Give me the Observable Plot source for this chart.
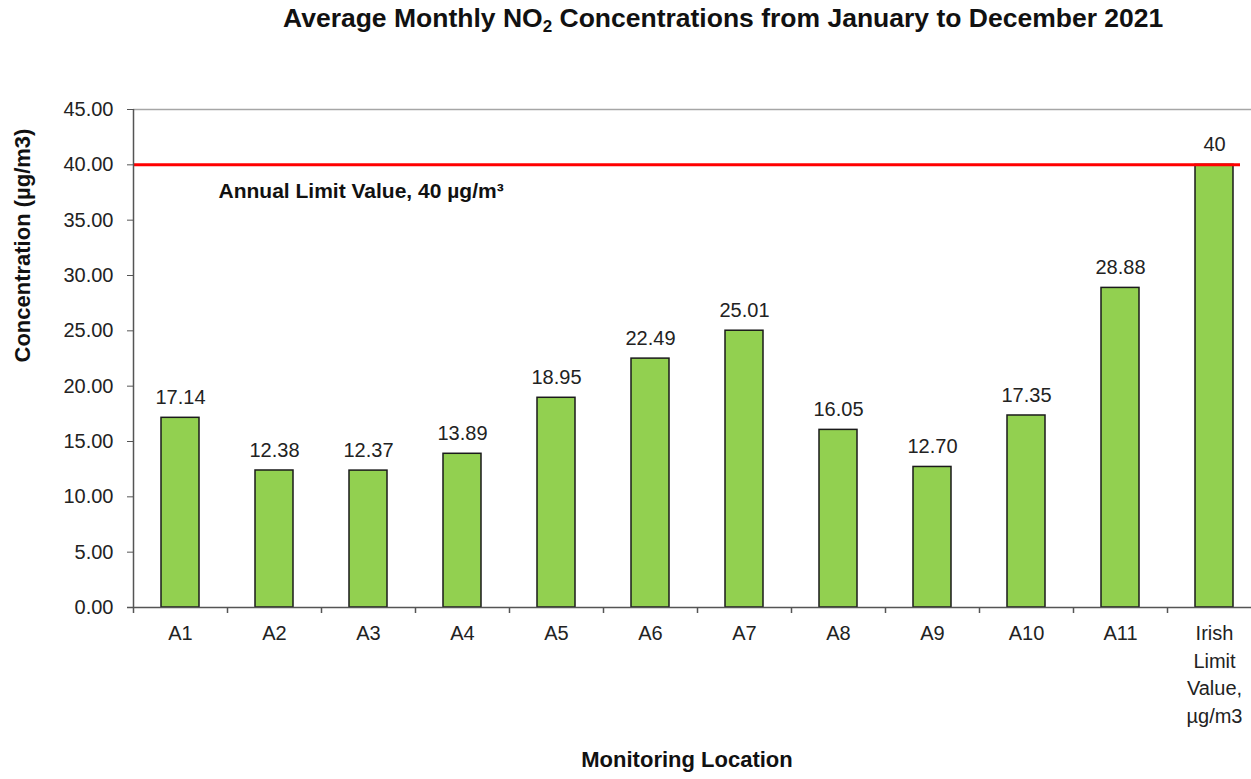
<!DOCTYPE html>
<html>
<head>
<meta charset="utf-8">
<script src="https://cdn.jsdelivr.net/npm/d3@7"></script>
<script src="https://cdn.jsdelivr.net/npm/@observablehq/plot@0.6"></script>
<style>
  html, body { margin: 0; padding: 0; background: #fff; }
  body { width: 1251px; height: 779px; overflow: hidden; font-family: "Liberation Sans", Arial, sans-serif; }
  #title { height: 50px; box-sizing: border-box; padding-top: 3px; padding-left: 283px; font-weight: bold; font-size: 26.5px; line-height: 30px; color: #111; white-space: nowrap; }
  #title sub { font-size: 17px; vertical-align: -5px; line-height: 0; }
  svg { display: block; }
</style>
</head>
<body>
<div id="title">Average Monthly NO<sub>2</sub> Concentrations from January to December 2021</div>
<div id="chart"></div>
<script>
const locations = ["A1","A2","A3","A4","A5","A6","A7","A8","A9","A10","A11","Irish Limit Value, µg/m3"];
const tickLabels = ["A1","A2","A3","A4","A5","A6","A7","A8","A9","A10","A11","Irish\nLimit\nValue,\nµg/m3"];
const concentrations = [17.14,12.38,12.37,13.89,18.95,22.49,25.01,16.05,12.70,17.35,28.88,40];
const valueLabels = ["17.14","12.38","12.37","13.89","18.95","22.49","25.01","16.05","12.70","17.35","28.88","40"];
const limitValue = [40];
const yTicks = [0,5,10,15,20,25,30,35,40,45];
const limitText = ["Annual Limit Value, 40 µg/m³"];

const data = locations.map((loc, i) => ({loc, tick: tickLabels[i], value: concentrations[i], label: valueLabels[i]}));

const W = 1251, H = 729;
const mL = 133, mT = 59, mB = 172, mR = 11;
const xRange = [133, 1261];
const step = (xRange[1] - xRange[0]) / locations.length;

const chart = Plot.plot({
  width: W,
  height: H,
  marginLeft: mL,
  marginTop: mT,
  marginBottom: mB,
  marginRight: mR,
  style: {fontFamily: "'Liberation Sans', Arial, sans-serif", color: "#222", background: "#fff", overflow: "hidden"},
  x: {type: "band", domain: locations, range: xRange, paddingInner: 0.6, paddingOuter: 0.3, align: 0.5, axis: null},
  y: {domain: [0, 45], axis: null},
  marks: [
    // top border
    Plot.ruleY([45], {stroke: "#a6a6a6", strokeWidth: 1.5, insetRight: -11}),
    // y axis ticks & labels
    Plot.axisY({ticks: yTicks, tickFormat: d => d.toFixed(2), tickSize: 6, tickPadding: 14, fontSize: 20, stroke: "#555", fill: "#222", label: null}),
    // bars
    Plot.barY(data, {x: "loc", y: "value", fill: "#92D050", stroke: "#1a1a1a", strokeWidth: 1.5}),
    // limit line
    Plot.ruleY(limitValue, {stroke: "#ff0000", strokeWidth: 3}),
    // y axis line
    Plot.ruleX([locations[0]], {x: d => d, dx: -step / 2, y1: 0, y2: 45, stroke: "#555", strokeWidth: 1.5}),
    // x axis line
    Plot.ruleY([0], {stroke: "#555", strokeWidth: 1.5, insetLeft: -6, insetRight: -11}),
    // category boundary ticks
    Plot.ruleX(data, {x: "loc", dx: -step / 2, y1: 0, y2: 0, insetBottom: -6, stroke: "#555", strokeWidth: 1.5}),
    // value labels
    Plot.text(data, {x: "loc", y: "value", text: "label", dy: -20, fontSize: 20, fill: "#222"}),
    // x tick labels
    Plot.text(data, {x: "loc", y: 0, text: "tick", dy: 13, lineAnchor: "top", lineHeight: 1.375, fontSize: 20, fill: "#222", textAnchor: "middle"}),
    // annotation
    Plot.text(limitText, {x: () => "A1", y: () => 40, dx: 38, dy: 26, textAnchor: "start", fontSize: 21, fontWeight: "bold", fill: "#111"}),
    // y axis label
    Plot.text(["Concentration (µg/m3)"], {frameAnchor: "left", dx: -111, dy: 4, rotate: -90, fontSize: 22, fontWeight: "bold", fill: "#111"}),
    // x axis label
    Plot.text(["Monitoring Location"], {frameAnchor: "bottom", dy: 159, fontSize: 22, fontWeight: "bold", fill: "#111"})
  ]
});
document.getElementById("chart").appendChild(chart);
</script>
</body>
</html>
